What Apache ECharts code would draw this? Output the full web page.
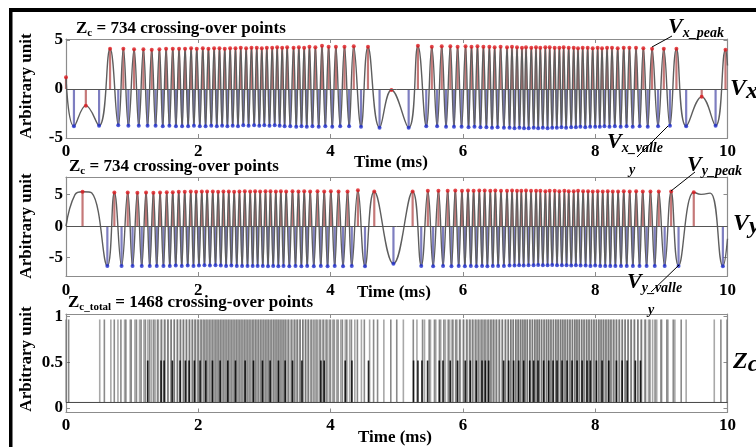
<!DOCTYPE html>
<html><head><meta charset="utf-8">
<script src="https://cdn.jsdelivr.net/npm/echarts@6/dist/echarts.min.js"></script>
<style>html,body{margin:0;padding:0;background:#fff}#c{width:756px;height:447px}</style>
</head><body><div id="c"></div>
<script>
// ---------------- data ----------------
const xTicks = [0, 2, 4, 6, 8, 10];
const vxTicks = [-5, 0, 5];
const vyTicks = [-5, 0, 5];
const zcTicks = [0, 0.5, 1];

const vxPeaks = [[0,1.2],[0.30,-1.7],[0.666,4.1],[0.867,4.1],[1.029,4.05],[1.170,4.05],[1.296,4.0],[1.412,4.05],[1.513,4.1],[1.614,4.1],[1.709,4.1],[1.800,4.1],[1.891,4.15],[1.977,4.1],[2.068,4.15],[2.153,4.1],[2.239,4.15],[2.320,4.15],[2.400,4.1],[2.481,4.15],[2.562,4.15],[2.642,4.2],[2.723,4.15],[2.804,4.2],[2.884,4.2],[2.960,4.15],[3.036,4.2],[3.117,4.2],[3.192,4.25],[3.268,4.2],[3.343,4.25],[3.44,4.2],[3.52,4.25],[3.60,4.2],[3.68,4.3],[3.77,4.25],[3.87,4.4],[3.97,4.3],[4.08,4.3],[4.21,4.3],[4.35,4.35],[4.565,4.3],[4.92,-0.1],[5.32,4.4],[5.53,4.3],[5.68,4.35],[5.81,4.35],[5.92,4.3],[6.04,4.35],[6.13,4.3],[6.22,4.35],[6.31,4.3],[6.40,4.3],[6.48,4.25],[6.57,4.3],[6.667,4.25],[6.742,4.3],[6.818,4.25],[6.893,4.2],[6.954,4.25],[7.034,4.2],[7.105,4.25],[7.170,4.2],[7.246,4.25],[7.312,4.25],[7.387,4.2],[7.458,4.2],[7.523,4.25],[7.599,4.2],[7.675,4.2],[7.740,4.15],[7.811,4.2],[7.886,4.2],[7.962,4.15],[8.037,4.2],[8.103,4.15],[8.179,4.2],[8.254,4.2],[8.340,4.15],[8.431,4.2],[8.517,4.2],[8.617,4.2],[8.728,4.15],[8.860,4.1],[9.037,4.1],[9.228,4.1],[9.61,-0.8],[9.97,4.0]];
const vxValleys = [[0.12,-3.8],[0.50,-3.75],[0.79,-3.7],[0.943,-3.75],[1.10,-3.75],[1.233,-3.75],[1.354,-3.75],[1.463,-3.8],[1.563,-3.75],[1.662,-3.8],[1.755,-3.8],[1.846,-3.8],[1.934,-3.75],[2.023,-3.8],[2.11,-3.8],[2.196,-3.75],[2.28,-3.8],[2.36,-3.75],[2.44,-3.8],[2.52,-3.75],[2.60,-3.8],[2.68,-3.7],[2.76,-3.75],[2.844,-3.7],[2.922,-3.75],[2.998,-3.7],[3.076,-3.75],[3.155,-3.7],[3.23,-3.75],[3.305,-3.8],[3.39,-3.8],[3.48,-3.85],[3.56,-3.8],[3.64,-3.85],[3.725,-3.8],[3.82,-3.85],[3.92,-3.8],[4.025,-3.85],[4.145,-3.8],[4.28,-3.8],[4.46,-3.85],[4.74,-3.95],[5.18,-3.95],[5.446,-3.8],[5.61,-3.8],[5.745,-3.85],[5.865,-3.85],[5.98,-3.85],[6.085,-3.9],[6.175,-3.85],[6.265,-3.9],[6.355,-3.9],[6.44,-3.95],[6.525,-3.9],[6.62,-3.95],[6.705,-3.95],[6.78,-4.0],[6.855,-3.95],[6.924,-4.0],[6.994,-4.0],[7.07,-3.95],[7.138,-4.0],[7.208,-3.95],[7.28,-4.0],[7.35,-3.95],[7.42,-3.95],[7.49,-3.9],[7.56,-3.95],[7.637,-3.9],[7.708,-3.9],[7.776,-3.85],[7.85,-3.9],[7.924,-3.85],[8.0,-3.85],[8.07,-3.85],[8.14,-3.8],[8.216,-3.85],[8.297,-3.8],[8.385,-3.85],[8.474,-3.8],[8.567,-3.85],[8.672,-3.8],[8.794,-3.85],[8.95,-3.8],[9.13,-3.75],[9.375,-3.8],[9.82,-3.75]];
const vxShape = [[10,2.4]];

const vyPeaks = [[0.25,5.45],[0.731,5.35],[0.933,5.35],[1.079,5.3],[1.210,5.35],[1.321,5.3],[1.422,5.35],[1.523,5.4],[1.614,5.4],[1.704,5.45],[1.795,5.45],[1.886,5.5],[1.967,5.45],[2.053,5.5],[2.133,5.5],[2.219,5.5],[2.300,5.45],[2.380,5.5],[2.461,5.5],[2.542,5.45],[2.622,5.5],[2.703,5.55],[2.784,5.5],[2.859,5.55],[2.935,5.5],[3.016,5.55],[3.091,5.55],[3.172,5.5],[3.248,5.55],[3.328,5.5],[3.424,5.55],[3.514,5.5],[3.601,5.55],[3.691,5.5],[3.802,5.55],[3.903,5.5],[4.004,5.55],[4.120,5.5],[4.256,5.5],[4.413,5.7],[4.660,5.5],[5.24,5.5],[5.47,5.6],[5.63,5.6],[5.77,5.6],[5.885,5.65],[5.986,5.6],[6.077,5.65],[6.162,5.6],[6.248,5.65],[6.329,5.65],[6.414,5.6],[6.490,5.65],[6.576,5.6],[6.667,5.6],[6.743,5.65],[6.818,5.6],[6.883,5.6],[6.954,5.65],[7.030,5.6],[7.106,5.6],[7.171,5.6],[7.247,5.55],[7.312,5.6],[7.388,5.6],[7.458,5.55],[7.534,5.6],[7.600,5.55],[7.675,5.55],[7.741,5.6],[7.817,5.55],[7.892,5.55],[7.963,5.5],[8.038,5.55],[8.114,5.5],[8.190,5.55],[8.265,5.5],[8.346,5.5],[8.432,5.55],[8.522,5.5],[8.619,5.55],[8.719,5.5],[8.835,5.5],[8.961,5.5],[9.148,5.5],[9.49,5.4]];
const vyValleys = [[0.625,-6.3],[0.84,-6.3],[1.006,-6.3],[1.145,-6.3],[1.266,-6.3],[1.372,-6.3],[1.473,-6.3],[1.569,-6.3],[1.659,-6.25],[1.75,-6.3],[1.84,-6.25],[1.927,-6.3],[2.01,-6.25],[2.093,-6.2],[2.176,-6.25],[2.26,-6.2],[2.34,-6.25],[2.42,-6.3],[2.50,-6.25],[2.582,-6.3],[2.662,-6.3],[2.744,-6.3],[2.822,-6.3],[2.897,-6.3],[2.975,-6.3],[3.054,-6.35],[3.132,-6.3],[3.21,-6.35],[3.288,-6.3],[3.376,-6.35],[3.469,-6.3],[3.558,-6.35],[3.646,-6.3],[3.746,-6.35],[3.852,-6.3],[3.954,-6.35],[4.062,-6.3],[4.188,-6.35],[4.32,-6.3],[4.52,-6.35],[4.95,-5.95],[5.37,-6.3],[5.55,-6.35],[5.70,-6.3],[5.827,-6.35],[5.936,-6.3],[6.03,-6.35],[6.12,-6.3],[6.205,-6.35],[6.29,-6.3],[6.37,-6.35],[6.452,-6.3],[6.533,-6.3],[6.62,-6.3],[6.705,-6.25],[6.78,-6.25],[6.85,-6.2],[6.918,-6.25],[6.992,-6.2],[7.068,-6.2],[7.138,-6.15],[7.209,-6.2],[7.28,-6.2],[7.35,-6.15],[7.423,-6.2],[7.496,-6.2],[7.567,-6.2],[7.638,-6.25],[7.708,-6.2],[7.779,-6.25],[7.855,-6.25],[7.928,-6.3],[8.0,-6.25],[8.076,-6.3],[8.152,-6.3],[8.228,-6.3],[8.305,-6.3],[8.39,-6.3],[8.477,-6.3],[8.57,-6.3],[8.67,-6.3],[8.777,-6.3],[8.9,-6.3],[9.05,-6.3],[9.26,-6.3],[9.93,-6.35]];
const vyShape = [[0,0],[0.136,5.0],[0.39,5.25],[9.6,5.05],[9.74,5.25],[10,-2.0]];

const zcVx = [0.04,0.58,0.73,0.83,0.905,0.986,1.065,1.135,1.20,1.265,1.325,1.383,1.438,1.488,1.538,1.589,1.638,1.686,1.732,1.778,1.823,1.869,1.913,1.956,2.0,2.046,2.089,2.132,2.175,2.218,2.26,2.30,2.34,2.38,2.42,2.46,2.50,2.541,2.581,2.621,2.661,2.702,2.742,2.782,2.824,2.864,2.903,2.941,2.979,3.017,3.056,3.097,3.136,3.174,3.211,3.249,3.287,3.324,3.367,3.415,3.46,3.50,3.54,3.58,3.62,3.66,3.703,3.748,3.795,3.845,3.895,3.945,3.998,4.053,4.113,4.178,4.245,4.315,4.405,4.51,4.65,4.71,4.91,5.0,5.25,5.39,5.49,5.57,5.645,5.712,5.778,5.838,5.893,5.95,6.01,6.062,6.108,6.152,6.198,6.242,6.288,6.332,6.378,6.42,6.46,6.502,6.548,6.595,6.643,6.686,6.724,6.761,6.80,6.836,6.874,6.908,6.94,6.974,7.014,7.052,7.088,7.122,7.154,7.189,7.227,7.263,7.296,7.331,7.368,7.404,7.439,7.474,7.506,7.542,7.58,7.618,7.656,7.692,7.724,7.758,7.794,7.83,7.868,7.905,7.943,7.981,8.018,8.054,8.087,8.122,8.16,8.198,8.235,8.276,8.318,8.362,8.408,8.452,8.496,8.542,8.592,8.645,8.70,8.761,8.827,8.905,8.994,9.083,9.18,9.30,9.90];
const zcVy = [0,0.51,0.678,0.785,0.886,0.97,1.042,1.112,1.178,1.238,1.294,1.347,1.397,1.448,1.498,1.546,1.591,1.636,1.682,1.727,1.772,1.818,1.863,1.906,1.947,1.988,2.031,2.073,2.113,2.155,2.197,2.24,2.28,2.32,2.36,2.40,2.44,2.48,2.521,2.562,2.602,2.642,2.682,2.723,2.764,2.803,2.84,2.878,2.916,2.955,2.995,3.035,3.072,3.111,3.152,3.191,3.229,3.268,3.308,3.352,3.40,3.446,3.49,3.536,3.58,3.624,3.668,3.718,3.774,3.827,3.877,3.928,3.979,4.033,4.091,4.154,4.222,4.288,4.366,4.466,4.59,4.805,5.10,5.305,5.42,5.51,5.59,5.665,5.735,5.80,5.856,5.91,5.961,6.008,6.054,6.098,6.141,6.184,6.226,6.27,6.31,6.35,6.392,6.433,6.471,6.512,6.555,6.598,6.644,6.686,6.724,6.762,6.80,6.834,6.866,6.90,6.936,6.973,7.011,7.049,7.087,7.122,7.155,7.19,7.228,7.264,7.296,7.331,7.369,7.406,7.44,7.477,7.515,7.55,7.584,7.619,7.656,7.692,7.724,7.76,7.798,7.836,7.874,7.91,7.946,7.982,8.019,8.057,8.095,8.133,8.171,8.209,8.246,8.285,8.326,8.368,8.411,8.454,8.50,8.546,8.594,8.644,8.694,8.748,8.806,8.868,8.93,9.005,9.10,9.204,9.375,9.80,9.99];
const zcHalf = [1.235,1.437,1.483,1.608,1.725,1.805,1.861,1.941,2.027,2.113,2.214,2.330,2.446,2.562,2.708,2.834,2.970,3.086,3.212,3.313,3.424,3.566,3.853,3.903,4.221,4.322,4.573,5.254,5.320,5.381,5.466,5.643,5.699,5.809,5.920,6.036,6.112,6.203,6.289,6.339,6.389,6.616,6.692,6.767,6.843,6.919,7.010,7.070,7.136,7.221,7.297,7.363,7.423,7.499,7.575,7.650,7.726,7.802,7.877,7.927,8.018,8.104,8.205,8.321,8.407,8.483,8.608,8.684];
const ZC_BASE = 0.06, ZC_FULL = 0.97, ZC_HALF = 0.52;

// ---------------- chart ----------------
const FONT = '"Liberation Serif","Times New Roman",serif';
const AX = '#8c8c8c';
const byT = (...arrs) => [].concat(...arrs).slice().sort((a, b) => a[0] - b[0]);

function xAxes(grid, margin) {
  const common = { type: 'value', gridIndex: grid, min: xTicks[0], max: xTicks[xTicks.length - 1], interval: 2,
    axisLine: { onZero: false, lineStyle: { color: AX, width: 1.2 } },
    axisTick: { inside: true, length: 4, lineStyle: { color: AX } }, splitLine: { show: false } };
  return [
    Object.assign({}, common, { position: 'bottom', axisLabel: { margin, color: '#000', fontFamily: FONT, fontWeight: 'bold', fontSize: 17 } }),
    Object.assign({}, common, { position: 'top', axisLabel: { show: false } })
  ];
}
function yAxes(grid, min, max, ticks) {
  const common = { type: 'value', gridIndex: grid, min, max,
    axisLine: { show: true, onZero: false, lineStyle: { color: AX, width: 1.2 } },
    axisTick: { show: true, inside: true, length: 4, customValues: ticks, lineStyle: { color: AX } }, splitLine: { show: false } };
  return [
    Object.assign({}, common, { position: 'left', axisLabel: { customValues: ticks, margin: 3, color: '#000', fontFamily: FONT, fontWeight: 'bold', fontSize: 17 } }),
    Object.assign({}, common, { position: 'right', axisLabel: { show: false } })
  ];
}
function stems(ai, data, color, base, width) {
  return { type: 'custom', xAxisIndex: ai, yAxisIndex: ai, data, encode: { x: 0, y: 1 }, z: 2, silent: true, animation: false,
    renderItem: (p, api) => {
      const a = api.coord([api.value(0), base]);
      const b = api.coord([api.value(0), api.value(1)]);
      return { type: 'line', shape: { x1: a[0], y1: a[1], x2: b[0], y2: b[1] }, style: { stroke: color, lineWidth: width } };
    } };
}
function curve(ai, data) {
  return { type: 'line', xAxisIndex: ai, yAxisIndex: ai, data, smooth: 0.45, symbol: 'none', silent: true, z: 3,
    lineStyle: { color: '#5e5e5e', width: 1.4 },
    markLine: { silent: true, symbol: 'none', label: { show: false }, lineStyle: { color: '#555', width: 1, type: 'solid' }, data: [{ yAxis: 0 }] } };
}
function marks(ai, data, color) {
  return { type: 'scatter', xAxisIndex: ai, yAxisIndex: ai, data, symbol: 'circle', symbolSize: 4, itemStyle: { color }, z: 4, silent: true };
}

const RED = '#e01a1f', BLUE = '#2030d0';
const STEM_R = 'rgba(150,10,10,0.55)', STEM_B = 'rgba(20,20,140,0.55)';

const rich = (mainSize, subSize, italic, subLH, mainLH) => ({
  m: { fontSize: mainSize, fontWeight: 'bold', fontStyle: italic ? 'italic' : 'normal', fontFamily: FONT, lineHeight: mainLH, fill: '#000' },
  s: { fontSize: subSize, fontWeight: 'bold', fontStyle: italic ? 'italic' : 'normal', fontFamily: FONT, lineHeight: subLH, verticalAlign: 'bottom', fill: '#000' }
});
function txt(x, y, text, r, align) {
  return { type: 'text', x, y, z: 100, style: { text, rich: r, align: align || 'left', verticalAlign: 'middle', textAlign: align || 'left', textVerticalAlign: 'middle', fill: '#000' } };
}
function plain(x, y, text, size, italic, align, rot) {
  return { type: 'text', x, y, rotation: rot || 0, z: 100, style: { text, fontSize: size, fontWeight: 'bold', fontStyle: italic ? 'italic' : 'normal', fontFamily: FONT,
    align: align || 'left', verticalAlign: 'middle', textAlign: align || 'left', textVerticalAlign: 'middle', fill: '#000' } };
}
function ln(x1, y1, x2, y2) {
  return { type: 'line', z: 100, shape: { x1, y1, x2, y2 }, style: { stroke: '#000', lineWidth: 1 } };
}

const titleRich = rich(17, 11, false, 14, 20);
const annRich = rich(22, 14, true, 20, 26);
const bigRich = rich(24, 24, true, 24, 30);

const option = {
  animation: false,
  backgroundColor: '#fff',
  grid: [
    { left: 66, top: 39, width: 661.5, height: 99 },
    { left: 66, top: 177, width: 661.5, height: 99 },
    { left: 66, top: 314, width: 661.5, height: 98.5 }
  ],
  xAxis: [].concat(xAxes(0, 5), xAxes(1, 6), xAxes(2, 5)),
  yAxis: [].concat(yAxes(0, -5, 5.1, vxTicks), yAxes(1, -7.9, 7.8, vyTicks), yAxes(2, -0.05, 1.03, zcTicks)),
  series: [
    stems(0, vxPeaks, STEM_R, 0, 2.2), stems(0, vxValleys, STEM_B, 0, 2.2),
    curve(0, byT(vxPeaks, vxValleys, vxShape)),
    marks(0, vxPeaks, RED), marks(0, vxValleys, BLUE),
    stems(2, vyPeaks, STEM_R, 0, 2.2), stems(2, vyValleys, STEM_B, 0, 2.2),
    curve(2, byT(vyPeaks, vyValleys, vyShape)),
    marks(2, vyPeaks, RED), marks(2, vyValleys, BLUE),
    stems(4, zcVx.map(t => [t, ZC_FULL]), 'rgba(60,60,60,0.6)', ZC_BASE, 1.6),
    stems(4, zcVy.map(t => [t, ZC_FULL]), 'rgba(110,110,110,0.6)', ZC_BASE, 1.6),
    stems(4, zcHalf.map(t => [t, ZC_HALF]), 'rgba(0,0,0,0.85)', ZC_BASE, 1.6),
    { type: 'line', xAxisIndex: 4, yAxisIndex: 4, data: [[xTicks[0], ZC_BASE], [xTicks[xTicks.length - 1], ZC_BASE]], symbol: 'none', silent: true, z: 3, lineStyle: { color: '#444', width: 1 } }
  ],
  graphic: [
    { type: 'rect', z: 100, shape: { x: 9, y: 8, width: 747, height: 4 }, style: { fill: '#000' } },
    { type: 'rect', z: 100, shape: { x: 9, y: 8, width: 3.5, height: 439 }, style: { fill: '#000' } },
    txt(76, 28.5, '{m|Z}{s|c}{m| = 734 crossing-over points}', titleRich),
    txt(69, 166.6, '{m|Z}{s|c}{m| = 734 crossing-over points}', titleRich),
    txt(68, 302.6, '{m|Z}{s|c_total}{m| = 1468 crossing-over points}', titleRich),
    plain(354, 162.6, 'Time (ms)', 17, false),
    plain(357, 292.3, 'Time (ms)', 17, false),
    plain(358, 437.6, 'Time (ms)', 17, false),
    plain(27, 86, 'Arbitrary unit', 17, false, 'center', Math.PI / 2),
    plain(27, 226, 'Arbitrary unit', 17, false, 'center', Math.PI / 2),
    plain(27, 359, 'Arbitrary unit', 17, false, 'center', Math.PI / 2),
    txt(668, 27.6, '{m|V}{s|x_peak}', annRich),
    ln(672, 36, 652, 47),
    txt(607, 142.6, '{m|V}{s|x_valle}', annRich),
    plain(632, 170.3, 'y', 14, true, 'center'),
    ln(668, 126, 637, 157),
    txt(687, 165.6, '{m|V}{s|y_peak}', annRich),
    ln(695, 172, 671, 191),
    txt(627, 282.6, '{m|V}{s|y_valle}', annRich),
    plain(651, 310.3, 'y', 14, true, 'center'),
    ln(679, 265, 651, 292),
    txt(730, 88.6, '{m|V}{s|x}', bigRich),
    txt(733, 223.6, '{m|V}{s|y}', bigRich),
    txt(733, 362, '{m|Z}{s|c}', bigRich)
  ]
};
const chart = echarts.init(document.getElementById('c'), null, { renderer: 'canvas' });
chart.setOption(option);
</script>
</body></html>
